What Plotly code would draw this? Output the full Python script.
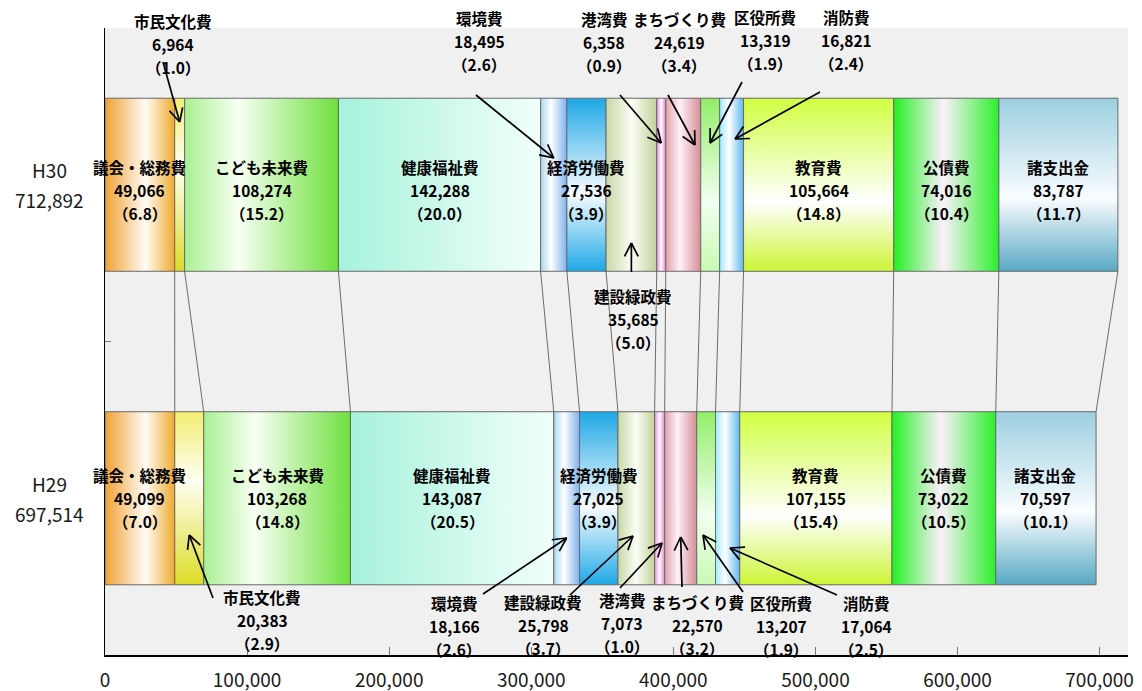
import math
import plotly.graph_objects as go

# ---------------- data ----------------
categories = ['議会・総務費', '市民文化費', 'こども未来費', '健康福祉費', '環境費', '経済労働費',
              '建設緑政費', '港湾費', 'まちづくり費', '区役所費', '消防費', '教育費', '公債費', '諸支出金']
years = ['H30', 'H29']
h30_values = [49066, 6964, 108274, 142288, 18495, 27536, 35685, 6358, 24619, 13319, 16821, 105664, 74016, 83787]
h29_values = [49099, 20383, 103268, 143087, 18166, 27025, 25798, 7073, 22570, 13207, 17064, 107155, 73022, 70597]
h30_share = [6.8, 1.0, 15.2, 20.0, 2.6, 3.9, 5.0, 0.9, 3.4, 1.9, 2.4, 14.8, 10.4, 11.7]
h29_share = [7.0, 2.9, 14.8, 20.5, 2.6, 3.9, 3.7, 1.0, 3.2, 1.9, 2.5, 15.4, 10.5, 10.1]
x_ticks = [0, 100000, 200000, 300000, 400000, 500000, 600000, 700000]
x_tick_labels = ['0', '100,000', '200,000', '300,000', '400,000', '500,000', '600,000', '700,000']

# ---------------- layout constants ----------------
W, H = 1142, 691
ML, MR, MT, MB = 105, 14, 28, 36
XMAX = 720000
YMIN, YMAX = -0.5, 1.5
HALF = 0.276
ROW_Y = {0: 1.0, 1: 0.0}  # H30 top, H29 bottom
FONT = 'Noto Sans CJK JP'
PW, PH = W - ML - MR, H - MT - MB


def px_x(px):
    return (px - ML) / PW * XMAX


def px_y(py):
    return YMAX - (py - MT) / PH * (YMAX - YMIN)


def x_px(x):
    return ML + x / XMAX * PW


def y_px(y):
    return MT + (YMAX - y) / (YMAX - YMIN) * PH


styles = [
    ('horizontal', [[0, '#efa035'], [0.58, '#fffcf5'], [1, '#eeaa30']]),
    ('vertical', [[0, '#dcdc26'], [0.6, '#fffff2'], [1, '#f2ee72']]),
    ('horizontal', [[0, '#a8f092'], [0.35, '#f8fff4'], [1, '#6ee03c']]),
    ('horizontal', [[0, '#a6f2dc'], [1, '#f2fffb']]),
    ('horizontal', [[0, '#a8d8f0'], [0.4, '#ffffff'], [1, '#7fb0ee']]),
    ('vertical', [[0, '#1ea8e6'], [0.45, '#f8fcff'], [1, '#1ea8e6']]),
    ('horizontal', [[0, '#c8d8a6'], [0.5, '#fbfdf6'], [1, '#c2d298']]),
    ('horizontal', [[0, '#f090e0'], [0.5, '#ffffff'], [1, '#f07ed8']]),
    ('horizontal', [[0, '#e0a2aa'], [0.4, '#fff0fa'], [1, '#d68e96']]),
    ('vertical', [[0, '#c8fab4'], [0.4, '#f2fff0'], [1, '#92ee68']]),
    ('horizontal', [[0, '#a0eaff'], [0.4, '#ffffff'], [1, '#60b8f0']]),
    ('vertical', [[0, '#ccf535'], [0.4, '#ffffff'], [1, '#d0ff40']]),
    ('horizontal', [[0, '#22f022'], [0.47, '#fcf0fc'], [1, '#2cf02a']]),
    ('vertical', [[0, '#58a8c4'], [0.42, '#fafdff'], [1, '#9ccfe0']]),
]

rows = [h30_values, h29_values]
shares = [h30_share, h29_share]

fig = go.Figure()

bounds = []
for r, vals in enumerate(rows):
    yc = ROW_Y[r]
    x0 = 0
    b = []
    for i, v in enumerate(vals):
        x1 = x0 + v
        b.append((x0, x1))
        gtype, cs = styles[i]
        fig.add_trace(go.Scatter(
            x=[x0, x1, x1, x0, x0],
            y=[yc - HALF, yc - HALF, yc + HALF, yc + HALF, yc - HALF],
            mode='lines', fill='toself',
            fillgradient=dict(type=gtype, colorscale=cs),
            line=dict(color='#6a6a6a', width=1),
            hoverinfo='skip', showlegend=False))
        x0 = x1
    bounds.append(b)

# connector lines between the two bars
cx, cy = [], []
for i in range(len(categories)):
    cx += [bounds[0][i][1], bounds[1][i][1], None]
    cy += [ROW_Y[0] - HALF, ROW_Y[1] + HALF, None]
fig.add_trace(go.Scatter(x=cx, y=cy, mode='lines', line=dict(color='#4a4a4a', width=0.8),
                         hoverinfo='skip', showlegend=False))

annotations = []
shapes = []
GAP = 23


def add_label(x, y, idx, r, mid_shift=0, xref='x'):
    lines = [categories[idx], f'{rows[r][idx]:,}', f'（{shares[r][idx]:.1f}）']
    for k, t in enumerate(lines):
        annotations.append(dict(
            x=x, y=y, xref=xref, yref='y', text=f'<b>{t}</b>', showarrow=False,
            xanchor='center', yanchor='middle', yshift=mid_shift + GAP * (1 - k),
            font=dict(family=FONT, size=15.5, color='black')))


def add_arrow(tx, ty, sx, sy, arm=15, ang=27):
    """Arrow from tail (sx, sy) to tip (tx, ty), all in pixel space, open V head."""
    line = dict(color='black', width=1.7)
    shapes.append(dict(type='line', xref='x', yref='y', x0=px_x(sx), y0=px_y(sy),
                       x1=px_x(tx), y1=px_y(ty), line=line, layer='above'))
    d = math.atan2(sy - ty, sx - tx)
    for s in (-1, 1):
        a = d + s * math.radians(ang)
        ex, ey = tx + arm * math.cos(a), ty + arm * math.sin(a)
        shapes.append(dict(type='line', xref='x', yref='y', x0=px_x(tx), y0=px_y(ty),
                           x1=px_x(ex), y1=px_y(ey), line=line, layer='above'))


inside = [0, 2, 3, 5, 11, 12, 13]
for r in range(2):
    for i in inside:
        x0, x1 = bounds[r][i]
        add_label((x0 + x1) / 2, ROW_Y[r], i, r, mid_shift=-5 if r == 0 else 0)

# (row, idx, label_px, label_py_mid, tip_px, tip_py, tail_px, tail_py)
outside = [
    (0, 1, 173, 44, None, 122, 163, 62),
    (0, 4, 479, 41, None, 158, 476, 95),
    (0, 7, 604, 42, None, 143, 620, 95),
    (0, 8, 679, 42, 695, 145, 668, 95),
    (0, 9, 765, 40, 710, 143, 742, 82),
    (0, 10, 846, 40, 735, 139, 820, 92),
    (0, 6, 633, 319, None, 243, None, 272),
    (1, 1, 262, 620, None, 535, 213, 598),
    (1, 4, 454, 626, None, 538, 483, 594),
    (1, 6, 543, 625, 633, 536, 570, 595),
    (1, 7, 622, 623, 662, 543, 620, 588),
    (1, 8, 697, 625, None, 537, 682, 587),
    (1, 9, 781, 626, 703, 535, 743, 592),
    (1, 10, 866, 626, 730, 548, 837, 595),
]
for r, i, lx, ly, tx, ty, ax, ay in outside:
    add_label(px_x(lx), px_y(ly), i, r)
    x0, x1 = bounds[r][i]
    tip_px = x_px((x0 + x1) / 2) if tx is None else tx
    tail_px = tip_px if ax is None else ax
    add_arrow(tip_px, ty, tail_px, ay)

# category labels with totals
for r in range(2):
    total = sum(rows[r])
    for k, t in enumerate([years[r], f'{total:,}']):
        annotations.append(dict(
            x=-0.0538, y=ROW_Y[r], xref='paper', yref='y', text=t, showarrow=False,
            xanchor='center', yanchor='middle', yshift=15 - 30 * k,
            font=dict(family=FONT, size=19, color='#1a1a1a')))

fig.update_layout(
    width=W, height=H,
    margin=dict(l=ML, r=MR, t=MT, b=MB, autoexpand=False),
    paper_bgcolor='white', plot_bgcolor='#f0f0f0',
    showlegend=False,
    annotations=annotations,
    shapes=shapes,
    xaxis=dict(range=[0, XMAX], tickvals=x_ticks, ticktext=x_tick_labels, automargin=False,
               ticks='inside', ticklen=8, tickcolor='#777', showgrid=False, zeroline=False,
               showline=True, linecolor='black', linewidth=1.5,
               tickfont=dict(family=FONT, size=19, color='#1a1a1a'), ticklabelstandoff=7),
    yaxis=dict(range=[YMIN, YMAX], tickvals=[-0.5, 0.5, 1.5], ticks='inside', ticklen=6,
               automargin=False,
               tickcolor='#777', showticklabels=False, showgrid=False, zeroline=False,
               showline=True, linecolor='black', linewidth=1),
)

fig.write_html('out.html')
